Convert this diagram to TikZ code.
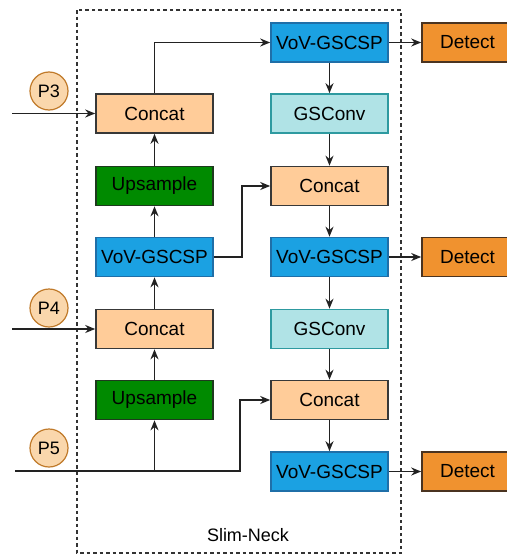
\documentclass[tikz,border=0pt]{standalone}
\usepackage{fontspec}
\setmainfont{Liberation Sans}
\usetikzlibrary{arrows.meta}
\definecolor{concatF}{HTML}{FFCC99}
\definecolor{upF}{HTML}{008A00}
\definecolor{upD}{HTML}{1E3A1E}
\definecolor{vovF}{HTML}{1BA1E2}
\definecolor{vovD}{HTML}{1F6FA8}
\definecolor{gsF}{HTML}{B0E3E6}
\definecolor{gsD}{HTML}{2E9AA0}
\definecolor{detF}{HTML}{F0922F}
\definecolor{detD}{HTML}{4A3320}
\definecolor{pF}{HTML}{FAD7AC}
\definecolor{pD}{HTML}{C07A2A}
\definecolor{lineC}{HTML}{222222}
\tikzset{
  blk/.style={rectangle, minimum width=117pt, minimum height=39pt, inner sep=0pt, line width=1.6pt, font=\fontsize{19}{22}\selectfont, text=black},
  concatbox/.style={blk, fill=concatF, draw=lineC!90},
  upbox/.style={blk, fill=upF, draw=upD},
  vovbox/.style={blk, fill=vovF, draw=vovD},
  gsbox/.style={blk, fill=gsF, draw=gsD},
  detbox/.style={blk, minimum width=91pt, fill=detF, draw=detD},
  pcirc/.style={circle, minimum size=38pt, inner sep=0pt, fill=pF, draw=pD, line width=1.2pt, font=\fontsize{18}{21}\selectfont},
  arr/.style={draw=lineC, line width=1.7pt, -{Stealth[length=10pt,width=8pt]}},
  ln/.style={draw=lineC, line width=1.7pt}
}
\begin{document}
\begin{tikzpicture}[x=1pt,y=-1pt]
\useasboundingbox (0,0) rectangle (506,554);
\draw[line width=1.3pt, dash pattern=on 3.5pt off 3pt, draw=black!80] (77,10) rectangle (401,553);
% left column
\node[concatbox] (c3) at (154.5,113.5) {Concat};
\node[upbox] (up1) at (154.5,186) {Upsample};
\node[vovbox] (vovL) at (154.5,257) {VoV-GSCSP};
\node[concatbox] (c4) at (154.5,329) {Concat};
\node[upbox] (up2) at (154.5,400) {Upsample};
% right column
\node[vovbox] (vov1) at (329.5,42.5) {VoV-GSCSP};
\node[gsbox] (gs1) at (329.5,113.5) {GSConv};
\node[concatbox] (cm) at (329.5,186) {Concat};
\node[vovbox] (vov2) at (329.5,257) {VoV-GSCSP};
\node[gsbox] (gs2) at (329.5,329) {GSConv};
\node[concatbox] (cl) at (329.5,400) {Concat};
\node[vovbox] (vov3) at (329.5,471.5) {VoV-GSCSP};
% detect
\node[detbox] (d1) at (467.5,42.5) {Detect};
\node[detbox] (d2) at (467.5,257) {Detect};
\node[detbox] (d3) at (467.5,471.5) {Detect};
% inputs
\node[pcirc] (p3) at (49,91) {P3};
\node[pcirc] (p4) at (49,308) {P4};
\node[pcirc] (p5) at (49,448) {P5};
\coordinate (p3s) at (12,113.5);
\coordinate (p4s) at (12,329);
\coordinate (p5s) at (15,471);
\coordinate (p5t) at (240,471);
\coordinate (vk) at (242,257);
\node[font=\fontsize{18}{21}\selectfont] (lbl) at (248,535) {Slim-Neck};
% connectors
\draw[arr] (p3s) -- (c3.west);
\draw[arr] (p4s) -- (c4.west);
\draw[arr] (up1) -- (c3);
\draw[arr] (vovL) -- (up1);
\draw[arr] (c4) -- (vovL);
\draw[arr] (up2) -- (c4);
\draw[arr] (p5s) -| (up2.south);
\draw[arr] (p5s) -- (p5t) |- (cl.west);
\draw[arr] (c3.north) |- (vov1.west);
\draw[arr] (vovL.east) -- (vk) |- (cm.west);
\draw[arr] (vov1) -- (gs1);
\draw[arr] (gs1) -- (cm);
\draw[arr] (cm) -- (vov2);
\draw[arr] (vov2) -- (gs2);
\draw[arr] (gs2) -- (cl);
\draw[arr] (cl) -- (vov3);
\draw[arr] (vov1) -- (d1);
\draw[arr] (vov2) -- (d2);
\draw[arr] (vov3) -- (d3);
\end{tikzpicture}
\end{document}
